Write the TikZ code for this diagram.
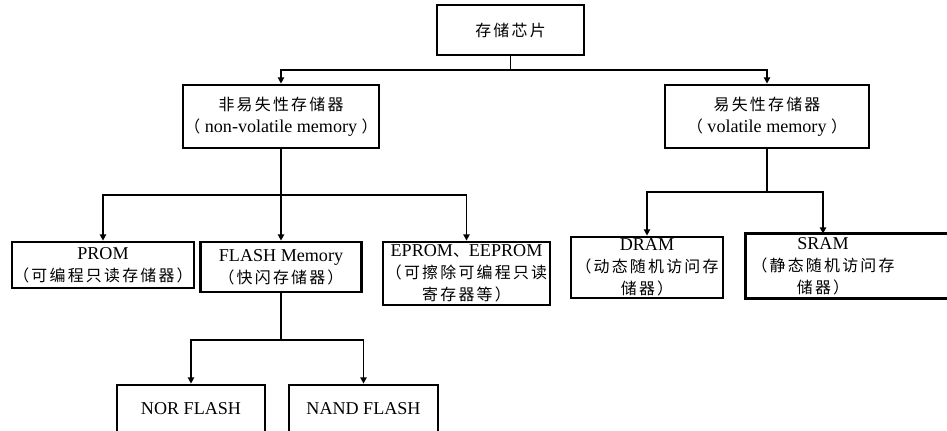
\documentclass[tikz,border=0pt]{standalone}
\usepackage{fontspec}
\setmainfont{Liberation Serif}
\newfontfamily\cjk[Scale=0.88, LetterSpace=14]{Noto Sans CJK SC}
\usepackage{tikz}
\usetikzlibrary{arrows.meta, positioning, calc}
\newcommand{\zh}[1]{{\cjk #1}}

\begin{document}
\begin{tikzpicture}[x=0.02cm, y=-0.02cm, every node/.style={font=\fontsize{10.3}{12.5}\selectfont}]
    \tikzset{memblock/.style={rectangle, draw=black, line width=1.6pt, inner sep=0pt,
                          align=center, font=\fontsize{10.3}{12.5}\selectfont},
             link/.style={line width=1pt, black},
             linkarr/.style={link, -{Triangle[length=3.5pt, width=3.5pt]}}}
    \useasboundingbox (0,0) rectangle (947,430);
    % top level
    \node[memblock, minimum width=2.94cm, minimum height=1cm] (chip) at (510.5, 30) {\zh{存储芯片}};
    \node[memblock, minimum width=3.92cm, minimum height=1.26cm] (nvm) at (281, 116.5)
      {\zh{非易失性存储器}\\\zh{（} non-volatile memory \zh{）}};
    \node[memblock, minimum width=4.08cm, minimum height=1.26cm] (vm) at (767, 116.5)
      {\zh{易失性存储器}\\\zh{（} volatile memory \zh{）}};
    % non-volatile branch
    \node[memblock, minimum width=3.64cm, minimum height=0.92cm] (prom) at (103, 265)
      {PROM\\\zh{（可编程只读存储器）}};
    \node[memblock, minimum width=3.22cm, minimum height=1cm] (flash) at (281, 267)
      {FLASH Memory\\\zh{（快闪存储器）}};
    \node[memblock, minimum width=3.34cm, minimum height=1.26cm] (eprom) at (466.5, 273.5)
      {EPROM\zh{、}EEPROM\\\zh{（可擦除可编程只读}\\\zh{寄存器等）}};
    % volatile branch
    \node[memblock, minimum width=3.04cm, minimum height=1.22cm] (dram) at (647, 267.5)
      {DRAM\\\zh{（动态随机访问存}\\\zh{储器）}};
    \node[memblock, draw=none, minimum width=3.04cm, minimum height=1.24cm] (sram) at (823, 266)
      {SRAM\\\zh{（静态随机访问存}\\\zh{储器）}};
    \draw[black, line width=1.6pt] (sram.north west) rectangle ($(sram.south east)+(52,0)$);
    % flash types
    \node[memblock, minimum width=2.96cm, minimum height=0.96cm] (nor) at (191, 409) {NOR FLASH};
    \node[memblock, minimum width=2.98cm, minimum height=0.96cm] (nand) at (363.5, 409) {NAND FLASH};

    \coordinate (chipjoin) at (510.5, 70);
    \coordinate (nvmjoin) at (281, 195);
    \coordinate (vmjoin) at (767, 192);
    \coordinate (flashjoin) at (281, 340);
    \foreach \a/\b in {chip/chipjoin, nvm/nvmjoin, vm/vmjoin, flash/flashjoin}
      \draw[link] (\a) -- (\b);
    \foreach \a/\b in {chipjoin/nvm, chipjoin/vm, nvmjoin/prom, nvmjoin/flash, nvmjoin/eprom,
                       vmjoin/dram, vmjoin/sram, flashjoin/nor, flashjoin/nand}
      \draw[linkarr] (\a) -| (\b);
\end{tikzpicture}
\end{document}
